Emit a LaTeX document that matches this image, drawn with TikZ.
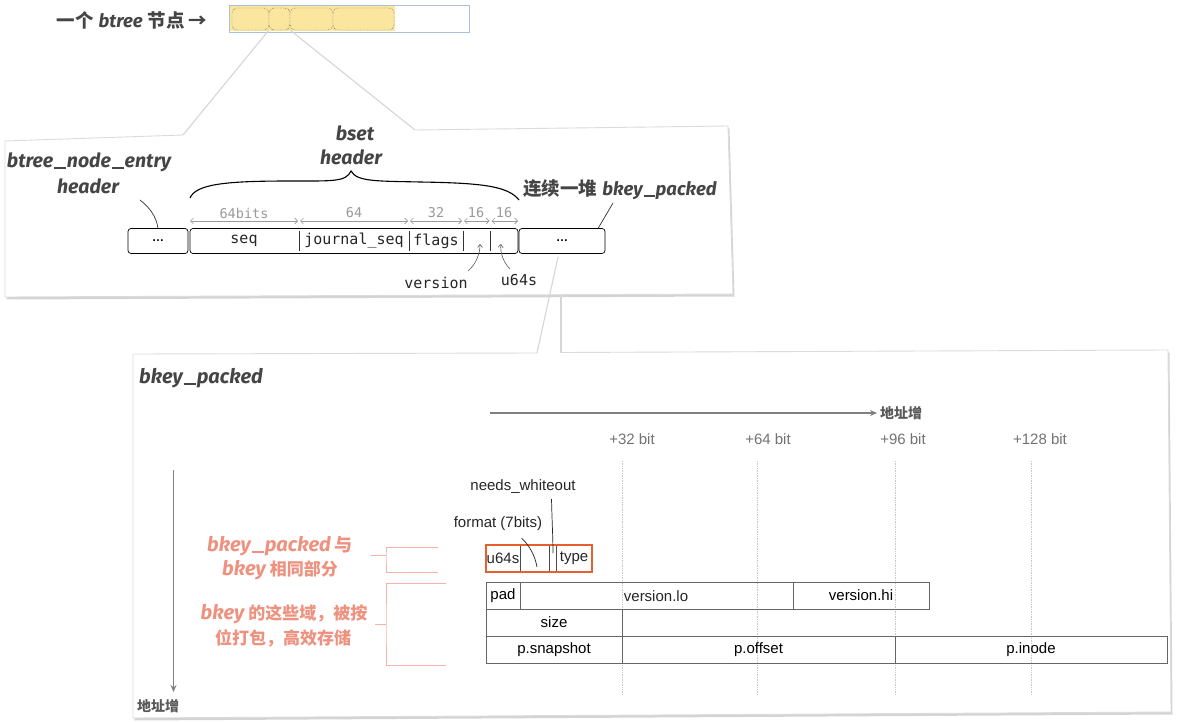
\documentclass[tikz,border=0pt]{standalone}
\usepackage{fontspec}
\setmainfont{Liberation Sans}
\newfontfamily\monof{DejaVu Sans Mono}
\newfontfamily\titlef{Fira Sans}
\newfontfamily\cjk{Noto Sans CJK SC}
\usetikzlibrary{arrows.meta,shadows}
\definecolor{ink}{HTML}{454545}
\definecolor{salmon}{HTML}{EE927F}
\definecolor{salmonline}{HTML}{F4B3A7}
\definecolor{orangebox}{HTML}{E4602E}
\definecolor{nodeyellow}{HTML}{FAE69E}
\definecolor{topblue}{HTML}{A9BFDA}
\definecolor{dimgray}{HTML}{9A9A9A}
\newcommand{\tb}{\titlef\bfseries\itshape}
\newcommand{\cb}{\cjk\bfseries\upshape}
\newcommand{\myfs}[1]{\fontsize{#1}{#1}\selectfont}
\newcommand{\wus}{\kern0.04em\rule[-0.07em]{0.62em}{0.09em}\kern0.04em}
\tikzset{
  panelfill/.style={fill=white, draw=none, drop shadow={shadow xshift=1.5pt, shadow yshift=-2.5pt, opacity=0.3, fill=black!55}},
  panelline/.style={draw=black!14, line width=0.9pt},
  conel/.style={draw=black!16, line width=1.1pt},
  ycell/.style={draw=black!75, densely dotted, rounded corners=5pt, minimum height=22pt, inner sep=0pt, fill=nodeyellow},
  rcell/.style={draw=black, line width=0.7pt, rounded corners=3pt, minimum height=25pt, inner sep=0pt},
  mono/.style={font=\monof\myfs{15}, text=black!85, inner sep=0pt},
  dimlbl/.style={font=\monof\myfs{13.5}, text=dimgray, inner sep=0pt},
  dimarr/.style={draw=dimgray, line width=0.6pt, {Straight Barb[length=3pt,width=6pt]}-{Straight Barb[length=3pt,width=6pt]}},
  ttl/.style={font=\tb\myfs{19.5}, text=ink, inner sep=0pt},
  thinarr/.style={draw=black!65, line width=0.6pt, -{Straight Barb[length=3pt,width=5pt]}},
  fcell/.style={draw=black!60, line width=0.8pt, minimum height=27pt, inner sep=0pt, font=\myfs{15}},
  flbl/.style={font=\myfs{15}, text=black!85, inner sep=0pt},
  collbl/.style={font=\myfs{15}, text=black!55, inner sep=0pt},
  gridl/.style={draw=black!22, densely dotted, line width=0.7pt},
  grayarr/.style={draw=black!50, line width=1.2pt, -{Stealth[length=7pt,width=6pt]}},
  smallcjk/.style={font=\cb\myfs{14}, text=black!65, inner sep=0pt},
  salmontxt/.style={font=\myfs{20}, text=salmon, align=center, inner sep=0pt},
  brk/.style={draw=salmonline, line width=0.8pt},
}
\begin{document}
\begin{tikzpicture}[x=1pt,y=-1pt]
\useasboundingbox (0,0) rectangle (1183,722);
\fill[white] (0,0) rectangle (1183,722);

% ---------- top: a btree node ----------
\node[ttl, font=\myfs{18.5}] (title) at (132,20) {{\cb 一个} {\tb btree} {\cb 节点 →}};
\fill[nodeyellow] (230,6) rectangle (395,31);
\node[draw=topblue, line width=0.8pt, minimum width=240pt, minimum height=27pt, inner sep=0pt, anchor=north west] (btn) at (229,5) {};
\node[ycell, minimum width=37pt] (c1) at (250.5,19) {};
\node[ycell, minimum width=21pt, draw=black!90] (c2) at (279.5,19) {};
\node[ycell, minimum width=43pt] (c3) at (311.5,19) {};
\node[ycell, minimum width=61pt] (c4) at (363.5,19) {};

% ---------- panel 1 ----------
\coordinate (p1a) at (183,135);
\coordinate (p1b) at (415,130);
\path[panelfill] (5,141) -- (p1a) -- (p1b) -- (728,126) -- (733,294) -- (5,297) -- cycle;
\draw[panelline] (p1a) -- (5,141) -- (5,297) -- (733,294) -- (728,126) -- (p1b);
\draw[conel] (c2.south west) -- (p1a);
\draw[conel] (c2.south east) -- (p1b);

\node[ttl] (bneh1) at (89,162) {btree\wus node\wus entry};
\node[ttl] (bneh2) at (88,186) {header};
\node[ttl] (bset1) at (355,133) {bset};
\node[ttl] (bset2) at (351,157) {header};
\node[ttl, font=\myfs{18.5}] (cont) at (620,190) {{\cb 连续一堆} {\tb bkey\wus packed}};

\node[rcell, minimum width=60pt] (e1) at (158,241) {\bfseries\myfs{12}…};
\node[rcell, minimum width=328pt] (bs) at (354,241) {};
\node[rcell, minimum width=86pt] (e2) at (562,241) {\bfseries\myfs{12}…};

\foreach \x/\n in {299/d1,409/d2,463/d3,490.5/d4}{
  \coordinate (\n t) at (\x,231);
  \coordinate (\n b) at (\x,251);
  \draw[black!80, line width=0.7pt] (\n t) -- (\n b);
}
\node[mono] (seq) at (244,241) {seq};
\node[mono] (jseq) at (354,241) {journal\_seq};
\node[mono] (flags) at (436,241) {flags};

\foreach \x/\n in {190/a0,298/a1,300/a2,408/a3,410/a4,462/a5,464/a6,489.5/a7,491.5/a8,518/a9}{
  \coordinate (\n) at (\x,221);
}
\draw[dimarr] (a0) -- (a1);
\draw[dimarr] (a2) -- (a3);
\draw[dimarr] (a4) -- (a5);
\draw[dimarr] (a6) -- (a7);
\draw[dimarr] (a8) -- (a9);
\node[dimlbl] (l64b) at (244,213) {64bits};
\node[dimlbl] (l64) at (354,213) {64};
\node[dimlbl] (l32) at (436,213) {32};
\node[dimlbl] (l16a) at (476,213) {16};
\node[dimlbl] (l16b) at (504,213) {16};

% brace
\draw[black, line width=1.1pt] (190,198) .. controls (196,184) and (226,181) .. (290,181)
  .. controls (333,181) and (346,182) .. (351,171)
  .. controls (357,182) and (378,181) .. (420,182)
  .. controls (482,183) and (508,186) .. (519,200);

\node[mono] (ver) at (436,283) {version};
\node[mono] (u64) at (519,280) {u64s};
\coordinate (va) at (468,271);
\coordinate (vb) at (480,244);
\coordinate (ua) at (510,269);
\coordinate (ub) at (501,244);
\draw[thinarr] (va) .. controls (476,264) and (480,254) .. (vb);
\draw[thinarr] (ua) .. controls (503,262) and (500,252) .. (ub);

\coordinate (bl0) at (140,200);
\draw[black!80, line width=0.7pt] (bl0) .. controls (150,208) and (156,216) .. (e1.north);
\coordinate (cl0) at (613,203);
\draw[black!80, line width=0.7pt] (cl0) -- (598,228.5);

% ---------- panel 2 ----------
\coordinate (p2a) at (537,353);
\coordinate (p2b) at (561,352.5);
\coordinate (p2c) at (558,257);
\coordinate (p2d) at (561,295);
\path[panelfill] (133,354) -- (1168,350) -- (1171,712) -- (133,718) -- cycle;
\draw[panelline] (p2a) -- (133,354) -- (133,718) -- (1171,712) -- (1168,350) -- (p2b);
\draw[conel] (p2a) -- (p2c);
\draw[conel] (p2b) -- (p2d);

\node[ttl, anchor=west, font=\tb\myfs{20}] (bkp) at (139,378) {bkey\wus packed};

% address arrows
\coordinate (hx0) at (490,413);
\coordinate (hx1) at (877,413);
\draw[grayarr] (hx0) -- (hx1);
\node[smallcjk] (hlbl) at (901,413) {地址增};
\coordinate (vy0) at (173.5,470);
\coordinate (vy1) at (173.5,692);
\draw[grayarr] (vy0) -- (vy1);
\node[smallcjk] (vlbl) at (158,706) {地址增};

% columns
\foreach \x/\lx/\t/\n in {622/632/+32 bit/g1,757.5/768/+64 bit/g2,895/903/+96 bit/g3,1031/1040/+128 bit/g4}{
  \node[collbl] (\n l) at (\lx,439) {\t};
  \coordinate (\n t) at (\x,461);
  \coordinate (\n b) at (\x,695);
  \draw[gridl] (\n t) -- (\n b);
}

% rows
\node[fcell, minimum width=34pt] (pad) at (503,595.5) {pad};
\node[fcell, minimum width=273pt] (vlo) at (656.5,595.5) {};
\node[flbl] (vlot) at (656,596) {version.lo};
\node[fcell, minimum width=136pt] (vhi) at (861,595.5) {version.hi};
\node[fcell, minimum width=136pt] (size) at (554,622.5) {size};
\node[fcell, minimum width=136pt] (psn) at (554,649.5) {p.snapshot};
\node[fcell, minimum width=273pt] (poff) at (758.5,649.5) {p.offset};
\node[fcell, minimum width=272pt] (pino) at (1031,649.5) {p.inode};

% orange header row
\node[draw=orangebox, line width=1.3pt, minimum width=106pt, minimum height=27pt, inner sep=0pt] (hdr) at (539,558.5) {};
\foreach \x/\n in {520/o1,549.5/o2,556.5/o3}{
  \coordinate (\n t) at (\x,546);
  \coordinate (\n b) at (\x,571);
  \draw[black!70, line width=0.8pt] (\n t) -- (\n b);
}
\node[flbl] (u64t) at (503,558.5) {u64s};
\node[flbl] (typt) at (574,558.5) {type};
\node[flbl] (fmt) at (498,524) {format (7bits)};
\node[flbl] (nwo) at (523,487) {needs\_whiteout};
\coordinate (f0) at (521.5,538);
\coordinate (f1) at (537,567);
\draw[black!85, line width=0.7pt] (f0) .. controls (530,546) and (535,556) .. (f1);
\coordinate (n0) at (551.5,499);
\coordinate (n1) at (553,553);
\draw[black!85, line width=0.7pt] (n0) .. controls (552,520) and (553,540) .. (n1);

% salmon annotations
\node[salmontxt] (s1a) at (280,546.5) {{\tb bkey\wus packed}\hspace{4pt}{\cb\myfs{18}与}};
\node[salmontxt] (s1b) at (280,570.5) {{\tb bkey}\hspace{4pt}{\cb\myfs{17}相同部分}};
\node[salmontxt] (s2a) at (284,614) {{\tb bkey}\hspace{4pt}{\cb\myfs{17}的这些域，被按}};
\node[salmontxt] (s2b) at (283,638.5) {{\cb\myfs{17}位打包，高效存储}};

\coordinate (b1s) at (371,555);
\coordinate (b1m) at (386,555);
\coordinate (b1t) at (438,547);
\coordinate (b1b) at (438,572);
\draw[brk] (b1s) -- (b1m);
\draw[brk] (b1t) -| (b1m) |- (b1b);
\coordinate (b2s) at (375,624);
\coordinate (b2m) at (386,624);
\coordinate (b2t) at (446,583);
\coordinate (b2b) at (446,665);
\draw[brk] (b2s) -- (b2m);
\draw[brk] (b2t) -| (b2m) |- (b2b);
\end{tikzpicture}
\end{document}
